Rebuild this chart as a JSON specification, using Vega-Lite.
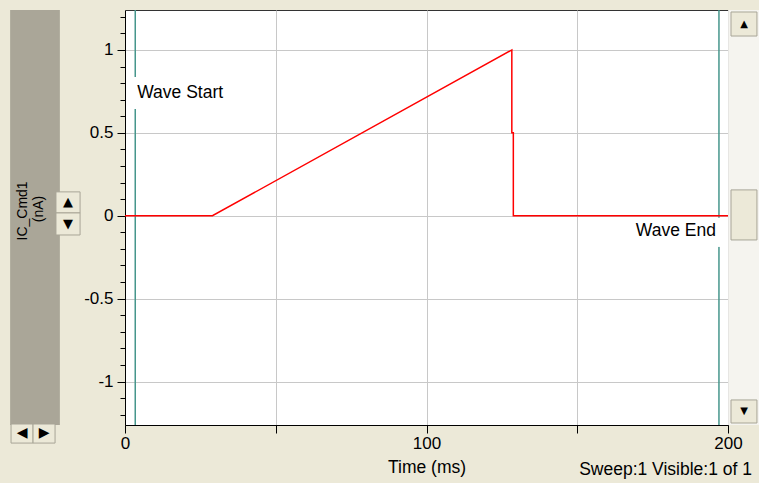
{
  "$schema": "https://vega.github.io/schema/vega-lite/v6.json",
  "width": 603,
  "height": 415,
  "autosize": {"type": "none"},
  "padding": {"left": 125, "top": 10, "right": 31, "bottom": 58},
  "background": "#ece9d8",
  "title": {"text": "Sweep:1 Visible:1 of 1", "orient": "bottom", "anchor": "end", "frame": "group", "dx": 24, "offset": -15, "fontSize": 17.5, "fontWeight": "normal", "color": "#000000", "font": "Liberation Sans"},
  "datasets": {
    "trace": [
      {"i": 0, "t": 0, "v": 0},
      {"i": 1, "t": 29, "v": 0},
      {"i": 2, "t": 128.3, "v": 1},
      {"i": 3, "t": 128.3, "v": 0.5},
      {"i": 4, "t": 128.8, "v": 0.5},
      {"i": 5, "t": 128.8, "v": 0},
      {"i": 6, "t": 200, "v": 0}
    ],
    "markers": [
      {"label": "Wave Start", "t": 3.4},
      {"label": "Wave End", "t": 197}
    ],
    "one": [{}]
  },
  "layer": [
    {
      "data": {"name": "one"},
      "mark": {"type": "rect", "fill": "#aaa698", "clip": false},
      "encoding": {
        "x": {"datum": -38.1, "type": "quantitative", "title": "Time (ms)"},
        "x2": {"datum": -21.6},
        "y": {"datum": 1.241, "type": "quantitative", "title": null},
        "y2": {"datum": -1.262}
      }
    },
    {
      "data": {"name": "one"},
      "mark": {"type": "text", "text": "IC_Cmd1", "angle": 270, "align": "center", "baseline": "middle", "fontSize": 14, "color": "#000000", "clip": false},
      "encoding": {
        "x": {"datum": -33.8, "type": "quantitative"},
        "y": {"datum": 0.029, "type": "quantitative", "title": null}
      }
    },
    {
      "data": {"name": "one"},
      "mark": {"type": "text", "text": "(nA)", "angle": 270, "align": "center", "baseline": "middle", "fontSize": 14, "color": "#000000", "clip": false},
      "encoding": {
        "x": {"datum": -28.5, "type": "quantitative"},
        "y": {"datum": 0.041, "type": "quantitative", "title": null}
      }
    },
    {
      "data": {"name": "one"},
      "mark": {"type": "rect", "fill": "#f5f4ef", "clip": false},
      "encoding": {
        "x": {"datum": 200.1, "type": "quantitative"},
        "x2": {"datum": 210.5},
        "y": {"datum": 1.241, "type": "quantitative", "title": null},
        "y2": {"datum": -1.262}
      }
    },
    {
      "data": {"name": "one"},
      "mark": {"type": "rect", "fill": "#ece9d8", "stroke": "#a8a597", "strokeWidth": 1, "clip": false},
      "encoding": {
        "x": {"datum": 201.0, "type": "quantitative"},
        "x2": {"datum": 209.6},
        "y": {"datum": 1.229, "type": "quantitative", "title": null},
        "y2": {"datum": 1.084}
      }
    },
    {
      "data": {"name": "one"},
      "mark": {"type": "rect", "fill": "#ece9d8", "stroke": "#a8a597", "strokeWidth": 1, "clip": false},
      "encoding": {
        "x": {"datum": 201.0, "type": "quantitative"},
        "x2": {"datum": 209.6},
        "y": {"datum": 0.156, "type": "quantitative", "title": null},
        "y2": {"datum": -0.146}
      }
    },
    {
      "data": {"name": "one"},
      "mark": {"type": "rect", "fill": "#ece9d8", "stroke": "#a8a597", "strokeWidth": 1, "clip": false},
      "encoding": {
        "x": {"datum": 201.0, "type": "quantitative"},
        "x2": {"datum": 209.6},
        "y": {"datum": -1.111, "type": "quantitative", "title": null},
        "y2": {"datum": -1.25}
      }
    },
    {
      "data": {"name": "one"},
      "mark": {"type": "rect", "fill": "#ece9d8", "stroke": "#a8a597", "strokeWidth": 1, "clip": false},
      "encoding": {
        "x": {"datum": -22.9, "type": "quantitative"},
        "x2": {"datum": -14.9},
        "y": {"datum": 0.144, "type": "quantitative", "title": null},
        "y2": {"datum": 0.017}
      }
    },
    {
      "data": {"name": "one"},
      "mark": {"type": "rect", "fill": "#ece9d8", "stroke": "#a8a597", "strokeWidth": 1, "clip": false},
      "encoding": {
        "x": {"datum": -22.9, "type": "quantitative"},
        "x2": {"datum": -14.9},
        "y": {"datum": 0.017, "type": "quantitative", "title": null},
        "y2": {"datum": -0.116}
      }
    },
    {
      "data": {"name": "one"},
      "mark": {"type": "rect", "fill": "#ece9d8", "stroke": "#a8a597", "strokeWidth": 1, "clip": false},
      "encoding": {
        "x": {"datum": -37.8, "type": "quantitative"},
        "x2": {"datum": -30.5},
        "y": {"datum": -1.256, "type": "quantitative", "title": null},
        "y2": {"datum": -1.371}
      }
    },
    {
      "data": {"name": "one"},
      "mark": {"type": "rect", "fill": "#ece9d8", "stroke": "#a8a597", "strokeWidth": 1, "clip": false},
      "encoding": {
        "x": {"datum": -30.5, "type": "quantitative"},
        "x2": {"datum": -23.2},
        "y": {"datum": -1.256, "type": "quantitative", "title": null},
        "y2": {"datum": -1.371}
      }
    },
    {
      "data": {"name": "one"},
      "mark": {"type": "text", "text": "▲", "font": "DejaVu Sans", "fontSize": 10, "color": "#000000", "clip": false},
      "encoding": {
        "x": {"datum": 205.3, "type": "quantitative"},
        "y": {"datum": 1.157, "type": "quantitative", "title": null}
      }
    },
    {
      "data": {"name": "one"},
      "mark": {"type": "text", "text": "▼", "font": "DejaVu Sans", "fontSize": 10, "color": "#000000", "clip": false},
      "encoding": {
        "x": {"datum": 205.3, "type": "quantitative"},
        "y": {"datum": -1.18, "type": "quantitative", "title": null}
      }
    },
    {
      "data": {"name": "one"},
      "mark": {"type": "text", "text": "▲", "font": "DejaVu Sans", "fontSize": 13, "color": "#000000", "clip": false},
      "encoding": {
        "x": {"datum": -18.9, "type": "quantitative"},
        "y": {"datum": 0.08, "type": "quantitative", "title": null}
      }
    },
    {
      "data": {"name": "one"},
      "mark": {"type": "text", "text": "▼", "font": "DejaVu Sans", "fontSize": 13, "color": "#000000", "clip": false},
      "encoding": {
        "x": {"datum": -18.9, "type": "quantitative"},
        "y": {"datum": -0.05, "type": "quantitative", "title": null}
      }
    },
    {
      "data": {"name": "one"},
      "mark": {"type": "text", "text": "◀", "font": "DejaVu Sans", "fontSize": 14, "color": "#000000", "clip": false},
      "encoding": {
        "x": {"datum": -34.15, "type": "quantitative"},
        "y": {"datum": -1.313, "type": "quantitative", "title": null}
      }
    },
    {
      "data": {"name": "one"},
      "mark": {"type": "text", "text": "▶", "font": "DejaVu Sans", "fontSize": 14, "color": "#000000", "clip": false},
      "encoding": {
        "x": {"datum": -26.85, "type": "quantitative"},
        "y": {"datum": -1.313, "type": "quantitative", "title": null}
      }
    },
    {
      "data": {"name": "markers"},
      "mark": {"type": "rule", "color": "#46968c", "strokeWidth": 1.5},
      "encoding": {
        "x": {"field": "t", "type": "quantitative", "title": "Time (ms)"}
      }
    },
    {
      "data": {"name": "markers"},
      "transform": [{"filter": "datum.label == 'Wave Start'"}],
      "mark": {"type": "rule", "color": "#ffffff", "strokeWidth": 4},
      "encoding": {
        "x": {"field": "t", "type": "quantitative", "title": "Time (ms)"},
        "y": {"datum": 0.837, "type": "quantitative", "title": null},
        "y2": {"datum": 0.644}
      }
    },
    {
      "data": {"name": "markers"},
      "transform": [{"filter": "datum.label == 'Wave End'"}],
      "mark": {"type": "rule", "color": "#ffffff", "strokeWidth": 4},
      "encoding": {
        "x": {"field": "t", "type": "quantitative", "title": "Time (ms)"},
        "y": {"datum": -0.012, "type": "quantitative", "title": null},
        "y2": {"datum": -0.188}
      }
    },
    {
      "data": {"name": "trace"},
      "mark": {"type": "line", "color": "#ff0000", "strokeWidth": 1.5},
      "encoding": {
        "x": {
          "field": "t", "type": "quantitative", "title": "Time (ms)",
          "scale": {"domain": [0, 200], "nice": false, "zero": false},
          "axis": {
            "values": [0, 50, 100, 150, 200],
            "tickCount": 100,
            "grid": true,
            "labelExpr": "datum.value % 100 == 0 ? '' + datum.value : ''",
            "labelFlush": false,
            "labelOverlap": false,
            "tickSize": 8,
            "labelPadding": 2,
            "titlePadding": 7
          }
        },
        "y": {
          "field": "v", "type": "quantitative", "title": null,
          "scale": {"domain": [-1.262, 1.241], "nice": false, "zero": false},
          "axis": {
            "values": [-1.2, -1.1, -1, -0.9, -0.8, -0.7, -0.6, -0.5, -0.4, -0.3, -0.2, -0.1, 0, 0.1, 0.2, 0.3, 0.4, 0.5, 0.6, 0.7, 0.8, 0.9, 1, 1.1, 1.2],
            "tickCount": 100,
            "grid": true,
            "labelExpr": "datum.value * 2 == round(datum.value * 2) ? '' + datum.value : ''",
            "labelFlush": false,
            "labelOverlap": false,
            "tickSize": {"condition": {"test": "datum.value * 2 == round(datum.value * 2)", "value": 8}, "value": 5},
            "gridOpacity": {"condition": {"test": "datum.value * 2 == round(datum.value * 2)", "value": 1}, "value": 0},
            "labelPadding": 4
          }
        },
        "order": {"field": "i", "type": "quantitative"}
      }
    },
    {
      "data": {"name": "markers"},
      "transform": [{"filter": "datum.label == 'Wave Start'"}],
      "mark": {"type": "text", "align": "left", "baseline": "middle", "dx": 2, "fontSize": 17.5, "color": "#000000"},
      "encoding": {
        "x": {"field": "t", "type": "quantitative", "title": "Time (ms)"},
        "y": {"datum": 0.741, "type": "quantitative", "title": null},
        "text": {"field": "label"}
      }
    },
    {
      "data": {"name": "markers"},
      "transform": [{"filter": "datum.label == 'Wave End'"}],
      "mark": {"type": "text", "align": "right", "baseline": "middle", "dx": -3, "fontSize": 17.5, "color": "#000000"},
      "encoding": {
        "x": {"field": "t", "type": "quantitative", "title": "Time (ms)"},
        "y": {"datum": -0.092, "type": "quantitative", "title": null},
        "text": {"field": "label"}
      }
    }
  ],
  "config": {
    "font": "Liberation Sans",
    "view": {"stroke": "#333333", "strokeWidth": 1, "fill": "#ffffff"},
    "axis": {
      "labelFontSize": 17,
      "labelColor": "#000000",
      "titleFontSize": 17.5,
      "titleFontWeight": "normal",
      "titleColor": "#000000",
      "domainColor": "#000000",
      "tickColor": "#000000",
      "gridColor": "#c8c8c8",
      "gridWidth": 1
    }
  }
}
